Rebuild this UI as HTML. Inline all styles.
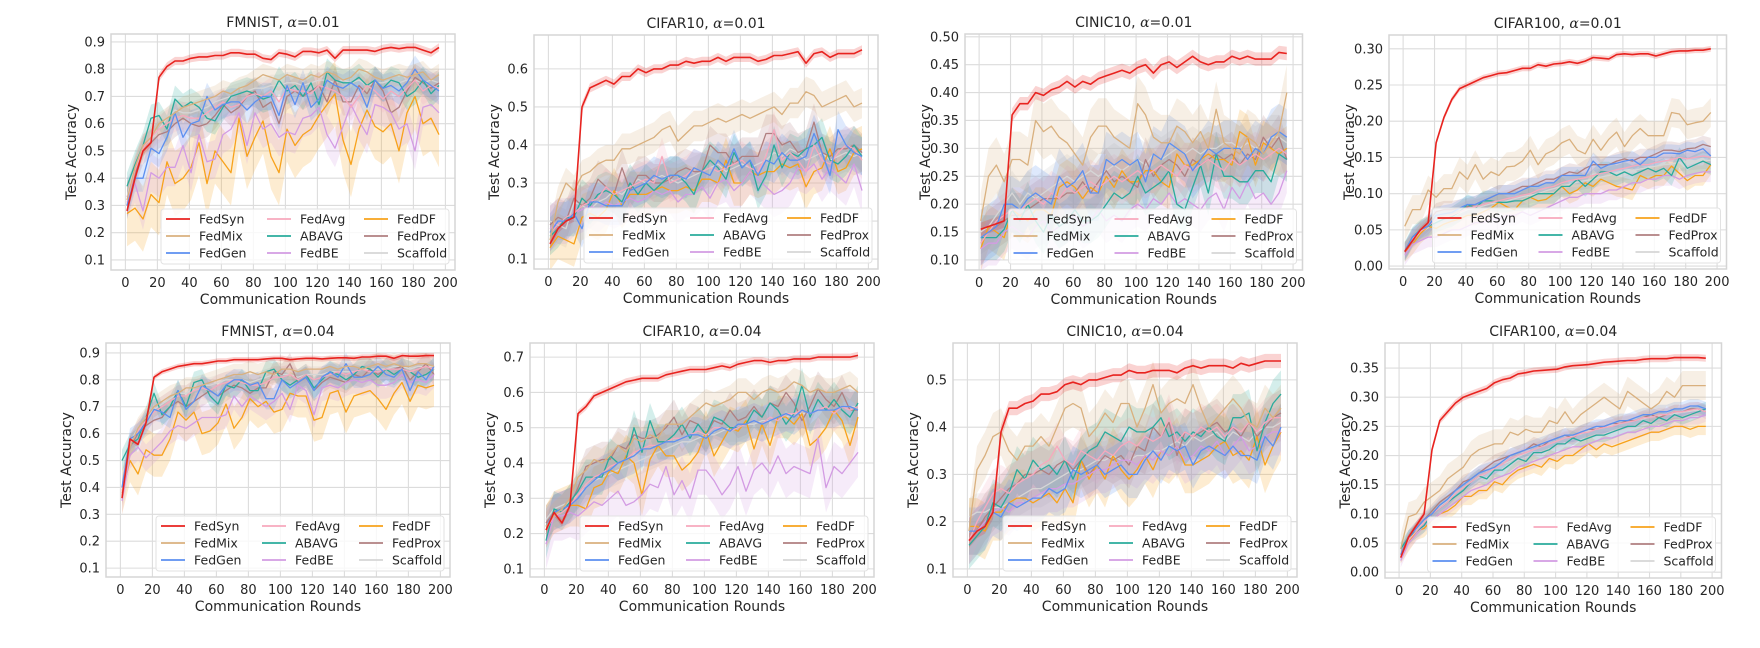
<!DOCTYPE html>
<html><head><meta charset="utf-8"><style>
html,body{margin:0;padding:0;background:#fff;}
svg{display:block;font-family:"DejaVu Sans","Liberation Sans",sans-serif;}
</style></head><body>
<svg id="fig" width="1760" height="648" viewBox="0 0 1760 648" xmlns="http://www.w3.org/2000/svg"></svg>
<script>
// Series order: FedSyn, FedMix, FedGen, FedAvg, ABAVG, FedBE, FedDF, FedProx, Scaffold
const seriesNames = ["FedSyn","FedMix","FedGen","FedAvg","ABAVG","FedBE","FedDF","FedProx","Scaffold"];
const rounds = [1,6,11,16,21,26,31,36,41,46,51,56,61,66,71,76,81,86,91,96,101,106,111,116,121,126,131,136,141,146,151,156,161,166,171,176,181,186,191,196];
const xTicks = [0,20,40,60,80,100,120,140,160,180,200];

const p1Titles = "FMNIST";
const p1Syn = [0.28,0.40,0.50,0.53,0.77,0.81,0.83,0.83,0.84,0.845,0.845,0.85,0.85,0.86,0.86,0.855,0.855,0.84,0.835,0.86,0.855,0.845,0.865,0.865,0.86,0.87,0.84,0.87,0.87,0.87,0.87,0.865,0.875,0.88,0.875,0.88,0.88,0.87,0.86,0.88];
const p1Mix = [0.32,0.44,0.52,0.55,0.60,0.62,0.64,0.66,0.67,0.68,0.69,0.70,0.72,0.71,0.73,0.74,0.76,0.78,0.77,0.76,0.78,0.77,0.76,0.78,0.77,0.79,0.78,0.76,0.77,0.80,0.79,0.77,0.76,0.77,0.78,0.77,0.78,0.79,0.76,0.78];
const p1Gen = [0.30,0.40,0.40,0.51,0.49,0.55,0.64,0.55,0.60,0.61,0.70,0.65,0.67,0.68,0.68,0.65,0.68,0.70,0.70,0.63,0.74,0.67,0.75,0.66,0.69,0.76,0.74,0.73,0.75,0.73,0.66,0.76,0.73,0.74,0.72,0.75,0.80,0.76,0.74,0.72];
const p1Avg = [0.31,0.43,0.51,0.55,0.58,0.60,0.62,0.63,0.62,0.62,0.64,0.66,0.68,0.66,0.67,0.70,0.71,0.70,0.72,0.68,0.73,0.72,0.72,0.71,0.74,0.73,0.72,0.70,0.66,0.70,0.74,0.72,0.69,0.72,0.70,0.73,0.76,0.72,0.74,0.73];
const p1Ab = [0.37,0.45,0.52,0.62,0.63,0.58,0.69,0.66,0.68,0.66,0.62,0.61,0.66,0.70,0.71,0.72,0.71,0.69,0.70,0.76,0.72,0.74,0.70,0.75,0.67,0.79,0.76,0.75,0.75,0.77,0.74,0.76,0.73,0.76,0.75,0.70,0.72,0.76,0.71,0.74];
const p1Be = [0.33,0.38,0.28,0.42,0.40,0.44,0.44,0.52,0.42,0.56,0.46,0.47,0.56,0.58,0.64,0.52,0.64,0.58,0.60,0.55,0.57,0.56,0.62,0.63,0.66,0.56,0.51,0.59,0.67,0.61,0.56,0.67,0.66,0.64,0.58,0.60,0.50,0.66,0.67,0.64];
const p1Df = [0.27,0.29,0.25,0.34,0.31,0.46,0.38,0.40,0.44,0.53,0.38,0.50,0.46,0.42,0.62,0.48,0.55,0.61,0.48,0.42,0.58,0.52,0.56,0.58,0.63,0.67,0.71,0.54,0.45,0.58,0.65,0.59,0.57,0.60,0.50,0.64,0.70,0.60,0.62,0.56];
const p1Prox = [0.30,0.42,0.50,0.53,0.56,0.57,0.60,0.62,0.60,0.59,0.60,0.63,0.67,0.64,0.66,0.70,0.72,0.66,0.68,0.60,0.70,0.72,0.70,0.72,0.74,0.68,0.76,0.68,0.68,0.74,0.71,0.76,0.72,0.64,0.66,0.72,0.77,0.75,0.73,0.75];
const p1Scaf = [0.33,0.45,0.52,0.54,0.58,0.62,0.65,0.64,0.64,0.65,0.66,0.68,0.69,0.70,0.71,0.72,0.73,0.73,0.74,0.74,0.75,0.75,0.74,0.75,0.76,0.76,0.75,0.76,0.75,0.76,0.74,0.75,0.75,0.76,0.75,0.76,0.76,0.75,0.76,0.75];
const p1Spread = [0.015,0.04,0.05,0.05,0.05,0.07,0.12,0.05,0.04];

const p2Syn = [0.14,0.18,0.20,0.21,0.50,0.55,0.56,0.57,0.56,0.58,0.58,0.60,0.59,0.60,0.60,0.61,0.61,0.62,0.615,0.62,0.62,0.63,0.62,0.63,0.63,0.63,0.62,0.625,0.635,0.635,0.64,0.645,0.615,0.64,0.645,0.63,0.64,0.64,0.64,0.65];
const p2Mix = [0.15,0.25,0.30,0.28,0.32,0.33,0.35,0.36,0.36,0.39,0.39,0.40,0.41,0.42,0.44,0.45,0.41,0.43,0.45,0.45,0.46,0.47,0.46,0.47,0.48,0.47,0.48,0.49,0.50,0.48,0.51,0.51,0.54,0.53,0.50,0.51,0.52,0.53,0.50,0.51];
const p2Gen = [0.17,0.20,0.20,0.22,0.18,0.25,0.25,0.24,0.24,0.24,0.28,0.29,0.30,0.32,0.31,0.32,0.32,0.31,0.34,0.33,0.32,0.36,0.34,0.39,0.34,0.36,0.32,0.36,0.35,0.38,0.36,0.36,0.37,0.43,0.38,0.32,0.44,0.40,0.38,0.37];
const p2Avg = [0.17,0.19,0.21,0.22,0.24,0.25,0.26,0.29,0.27,0.28,0.29,0.30,0.31,0.30,0.37,0.30,0.31,0.32,0.34,0.33,0.34,0.33,0.34,0.35,0.36,0.34,0.33,0.37,0.44,0.36,0.38,0.36,0.33,0.40,0.36,0.35,0.38,0.40,0.39,0.36];
const p2Ab = [0.16,0.18,0.21,0.21,0.26,0.24,0.27,0.28,0.27,0.25,0.30,0.27,0.30,0.28,0.30,0.32,0.32,0.30,0.27,0.33,0.36,0.34,0.31,0.38,0.34,0.36,0.28,0.32,0.40,0.34,0.38,0.37,0.39,0.40,0.42,0.36,0.35,0.37,0.40,0.37];
const p2Be = [0.18,0.20,0.20,0.22,0.23,0.24,0.23,0.25,0.24,0.25,0.26,0.25,0.26,0.28,0.27,0.28,0.25,0.27,0.27,0.29,0.26,0.30,0.31,0.28,0.30,0.33,0.31,0.29,0.27,0.28,0.30,0.34,0.33,0.35,0.31,0.34,0.32,0.30,0.35,0.28];
const p2Df = [0.13,0.16,0.15,0.14,0.21,0.22,0.21,0.23,0.28,0.24,0.27,0.27,0.27,0.28,0.29,0.28,0.28,0.29,0.28,0.31,0.31,0.30,0.36,0.30,0.30,0.33,0.32,0.33,0.33,0.35,0.34,0.35,0.29,0.33,0.34,0.39,0.33,0.34,0.38,0.39];
const p2Prox = [0.19,0.21,0.20,0.26,0.24,0.26,0.31,0.29,0.27,0.34,0.28,0.32,0.32,0.30,0.30,0.31,0.33,0.34,0.33,0.33,0.40,0.38,0.38,0.35,0.37,0.37,0.37,0.43,0.43,0.40,0.41,0.38,0.39,0.46,0.38,0.37,0.39,0.39,0.40,0.38];
const p2Scaf = [0.20,0.19,0.18,0.25,0.24,0.23,0.25,0.26,0.28,0.27,0.29,0.31,0.30,0.31,0.32,0.31,0.30,0.31,0.32,0.33,0.34,0.35,0.33,0.34,0.35,0.34,0.35,0.36,0.38,0.37,0.39,0.38,0.36,0.37,0.38,0.36,0.37,0.38,0.37,0.38];
const p2Spread = [0.012,0.04,0.05,0.05,0.05,0.06,0.06,0.05,0.05];

const p3Syn = [0.155,0.16,0.165,0.17,0.36,0.38,0.38,0.40,0.395,0.405,0.41,0.42,0.41,0.42,0.415,0.425,0.43,0.435,0.44,0.435,0.445,0.45,0.435,0.45,0.455,0.445,0.455,0.465,0.455,0.45,0.455,0.455,0.465,0.46,0.465,0.46,0.46,0.46,0.472,0.47];
const p3Mix = [0.17,0.25,0.27,0.24,0.28,0.28,0.27,0.35,0.33,0.34,0.32,0.31,0.29,0.27,0.32,0.34,0.34,0.32,0.31,0.30,0.38,0.36,0.32,0.31,0.31,0.34,0.33,0.31,0.33,0.30,0.37,0.31,0.30,0.29,0.32,0.31,0.29,0.31,0.33,0.40];
const p3Gen = [0.14,0.15,0.16,0.20,0.20,0.19,0.21,0.22,0.21,0.20,0.25,0.23,0.24,0.26,0.22,0.22,0.28,0.27,0.28,0.27,0.28,0.24,0.29,0.28,0.31,0.30,0.29,0.26,0.28,0.30,0.29,0.30,0.30,0.30,0.28,0.30,0.29,0.32,0.33,0.32];
const p3Avg = [0.13,0.15,0.17,0.18,0.19,0.19,0.20,0.21,0.20,0.22,0.21,0.23,0.22,0.23,0.24,0.23,0.24,0.25,0.24,0.25,0.26,0.25,0.26,0.27,0.26,0.25,0.27,0.26,0.27,0.28,0.27,0.26,0.28,0.27,0.28,0.29,0.28,0.29,0.30,0.29];
const p3Ab = [0.14,0.14,0.14,0.155,0.19,0.17,0.20,0.17,0.15,0.18,0.16,0.17,0.19,0.17,0.17,0.18,0.20,0.22,0.21,0.22,0.25,0.22,0.23,0.24,0.26,0.20,0.19,0.23,0.27,0.22,0.29,0.25,0.25,0.24,0.24,0.26,0.26,0.24,0.29,0.28];
const p3Be = [0.12,0.13,0.13,0.15,0.16,0.15,0.14,0.16,0.17,0.15,0.16,0.17,0.18,0.16,0.17,0.19,0.17,0.18,0.17,0.19,0.20,0.19,0.21,0.20,0.22,0.20,0.21,0.20,0.19,0.21,0.22,0.19,0.23,0.21,0.24,0.21,0.22,0.20,0.22,0.26];
const p3Df = [0.12,0.16,0.15,0.14,0.19,0.18,0.17,0.19,0.19,0.18,0.23,0.24,0.23,0.21,0.23,0.22,0.25,0.23,0.26,0.24,0.24,0.26,0.26,0.24,0.23,0.29,0.27,0.27,0.28,0.29,0.28,0.28,0.27,0.33,0.32,0.27,0.31,0.30,0.29,0.30];
const p3Prox = [0.13,0.15,0.16,0.17,0.18,0.18,0.19,0.20,0.21,0.21,0.21,0.22,0.22,0.24,0.22,0.24,0.26,0.24,0.25,0.24,0.23,0.28,0.25,0.27,0.28,0.27,0.25,0.28,0.27,0.28,0.29,0.28,0.29,0.27,0.29,0.28,0.32,0.30,0.32,0.28];
const p3Scaf = [0.15,0.16,0.18,0.20,0.22,0.20,0.22,0.21,0.22,0.23,0.24,0.25,0.24,0.25,0.26,0.25,0.26,0.27,0.26,0.27,0.28,0.27,0.29,0.28,0.29,0.30,0.29,0.30,0.29,0.30,0.30,0.31,0.31,0.30,0.31,0.30,0.31,0.32,0.32,0.31];
const p3Spread = [0.012,0.05,0.05,0.04,0.04,0.04,0.04,0.04,0.04];

const p4Syn = [0.02,0.035,0.05,0.06,0.17,0.205,0.23,0.245,0.25,0.255,0.26,0.263,0.266,0.267,0.27,0.273,0.273,0.278,0.276,0.279,0.28,0.282,0.28,0.283,0.288,0.287,0.286,0.292,0.293,0.292,0.293,0.293,0.29,0.293,0.296,0.297,0.297,0.298,0.298,0.30];
const p4Mix = [0.055,0.078,0.078,0.105,0.095,0.107,0.107,0.13,0.12,0.14,0.12,0.13,0.125,0.137,0.138,0.145,0.16,0.14,0.155,0.16,0.17,0.175,0.16,0.155,0.175,0.16,0.175,0.185,0.165,0.18,0.19,0.18,0.18,0.18,0.212,0.21,0.195,0.198,0.20,0.212];
const p4Gen = [0.02,0.04,0.05,0.055,0.07,0.072,0.074,0.08,0.085,0.085,0.09,0.095,0.10,0.10,0.10,0.105,0.11,0.11,0.115,0.115,0.125,0.125,0.125,0.125,0.145,0.135,0.14,0.142,0.145,0.147,0.14,0.15,0.15,0.156,0.156,0.155,0.16,0.158,0.162,0.152];
const p4Avg = [0.02,0.038,0.048,0.055,0.065,0.068,0.07,0.075,0.08,0.082,0.085,0.088,0.09,0.093,0.095,0.098,0.10,0.105,0.108,0.11,0.115,0.118,0.12,0.122,0.125,0.128,0.13,0.133,0.135,0.138,0.14,0.14,0.143,0.145,0.147,0.15,0.148,0.15,0.152,0.15];
const p4Ab = [0.02,0.04,0.05,0.055,0.06,0.065,0.068,0.075,0.085,0.08,0.09,0.09,0.088,0.088,0.09,0.09,0.095,0.10,0.10,0.10,0.11,0.11,0.12,0.11,0.12,0.13,0.13,0.125,0.13,0.125,0.13,0.135,0.13,0.135,0.125,0.15,0.135,0.14,0.145,0.14];
const p4Be = [0.015,0.03,0.035,0.04,0.04,0.045,0.05,0.05,0.055,0.06,0.06,0.065,0.065,0.07,0.07,0.075,0.07,0.075,0.08,0.085,0.09,0.095,0.095,0.10,0.10,0.10,0.105,0.105,0.11,0.115,0.115,0.12,0.12,0.125,0.125,0.12,0.125,0.128,0.13,0.13];
const p4Df = [0.02,0.03,0.045,0.055,0.052,0.058,0.062,0.065,0.07,0.07,0.075,0.08,0.088,0.082,0.078,0.09,0.095,0.09,0.092,0.10,0.11,0.10,0.105,0.115,0.11,0.12,0.115,0.11,0.108,0.105,0.125,0.12,0.125,0.125,0.138,0.128,0.118,0.125,0.125,0.14];
const p4Prox = [0.02,0.04,0.05,0.06,0.075,0.078,0.078,0.08,0.082,0.085,0.09,0.095,0.10,0.10,0.105,0.11,0.11,0.115,0.12,0.12,0.125,0.13,0.128,0.135,0.14,0.14,0.14,0.145,0.148,0.145,0.15,0.15,0.155,0.16,0.16,0.158,0.162,0.163,0.168,0.165];
const p4Scaf = [0.02,0.036,0.046,0.053,0.062,0.066,0.068,0.073,0.078,0.08,0.083,0.086,0.088,0.09,0.093,0.096,0.098,0.10,0.104,0.107,0.11,0.113,0.116,0.118,0.12,0.123,0.125,0.128,0.13,0.132,0.134,0.136,0.138,0.14,0.141,0.143,0.144,0.145,0.146,0.146];
const p4Spread = [0.004,0.02,0.012,0.012,0.014,0.014,0.014,0.012,0.012];

const p5Syn = [0.36,0.58,0.56,0.64,0.81,0.83,0.84,0.85,0.855,0.86,0.86,0.865,0.87,0.87,0.875,0.875,0.875,0.875,0.878,0.88,0.88,0.875,0.878,0.88,0.88,0.878,0.88,0.882,0.882,0.88,0.885,0.885,0.888,0.888,0.88,0.89,0.888,0.888,0.89,0.89];
const p5Mix = [0.37,0.55,0.62,0.66,0.70,0.72,0.74,0.75,0.77,0.77,0.78,0.79,0.80,0.81,0.82,0.82,0.83,0.82,0.83,0.82,0.84,0.84,0.83,0.84,0.84,0.84,0.85,0.84,0.85,0.85,0.84,0.85,0.86,0.85,0.86,0.85,0.85,0.86,0.86,0.85];
const p5Gen = [0.40,0.58,0.60,0.64,0.69,0.68,0.66,0.76,0.69,0.72,0.78,0.76,0.74,0.78,0.80,0.80,0.78,0.79,0.73,0.73,0.80,0.77,0.79,0.81,0.76,0.81,0.83,0.81,0.86,0.81,0.81,0.82,0.85,0.82,0.81,0.84,0.76,0.83,0.80,0.85];
const p5Avg = [0.38,0.56,0.61,0.65,0.68,0.70,0.72,0.74,0.74,0.76,0.77,0.76,0.78,0.79,0.80,0.79,0.78,0.78,0.79,0.81,0.81,0.82,0.80,0.82,0.80,0.81,0.82,0.83,0.82,0.83,0.84,0.83,0.83,0.84,0.84,0.84,0.83,0.84,0.85,0.84];
const p5Ab = [0.50,0.56,0.58,0.66,0.75,0.67,0.70,0.76,0.70,0.79,0.80,0.74,0.71,0.78,0.77,0.80,0.76,0.76,0.83,0.84,0.80,0.78,0.80,0.82,0.77,0.80,0.83,0.82,0.80,0.82,0.85,0.84,0.81,0.84,0.82,0.84,0.83,0.81,0.82,0.84];
const p5Be = [0.35,0.52,0.55,0.51,0.54,0.57,0.61,0.63,0.62,0.64,0.66,0.66,0.66,0.67,0.74,0.70,0.74,0.72,0.70,0.72,0.75,0.69,0.78,0.76,0.67,0.77,0.78,0.77,0.79,0.80,0.79,0.80,0.78,0.78,0.79,0.82,0.79,0.80,0.79,0.82];
const p5Df = [0.38,0.50,0.45,0.54,0.52,0.52,0.58,0.68,0.65,0.68,0.60,0.61,0.64,0.71,0.62,0.66,0.73,0.70,0.72,0.68,0.69,0.75,0.74,0.74,0.65,0.66,0.75,0.76,0.68,0.74,0.75,0.76,0.73,0.69,0.75,0.79,0.72,0.78,0.77,0.78];
const p5Prox = [0.38,0.55,0.60,0.63,0.65,0.66,0.70,0.72,0.70,0.72,0.74,0.76,0.74,0.76,0.78,0.77,0.75,0.77,0.77,0.83,0.82,0.86,0.79,0.81,0.76,0.79,0.81,0.80,0.79,0.82,0.81,0.84,0.82,0.84,0.84,0.85,0.80,0.83,0.86,0.82];
const p5Scaf = [0.39,0.57,0.62,0.66,0.69,0.71,0.73,0.75,0.75,0.77,0.78,0.78,0.79,0.80,0.80,0.80,0.79,0.80,0.81,0.82,0.82,0.82,0.81,0.82,0.82,0.82,0.83,0.83,0.83,0.83,0.84,0.84,0.84,0.84,0.85,0.85,0.84,0.85,0.85,0.85];
const p5Spread = [0.01,0.04,0.04,0.04,0.04,0.05,0.08,0.04,0.03];

const p6Syn = [0.21,0.26,0.23,0.28,0.54,0.56,0.59,0.60,0.61,0.62,0.63,0.635,0.64,0.64,0.64,0.65,0.655,0.66,0.665,0.665,0.665,0.67,0.675,0.67,0.68,0.685,0.69,0.69,0.685,0.69,0.69,0.695,0.695,0.695,0.70,0.70,0.70,0.70,0.70,0.705];
const p6Mix = [0.22,0.25,0.27,0.30,0.36,0.38,0.41,0.40,0.42,0.45,0.43,0.47,0.46,0.48,0.47,0.51,0.51,0.51,0.53,0.55,0.57,0.56,0.57,0.58,0.60,0.60,0.58,0.60,0.61,0.60,0.61,0.63,0.62,0.60,0.61,0.60,0.60,0.61,0.62,0.60];
const p6Gen = [0.22,0.26,0.27,0.28,0.30,0.33,0.35,0.37,0.38,0.40,0.41,0.42,0.44,0.44,0.45,0.46,0.46,0.47,0.48,0.48,0.47,0.49,0.50,0.49,0.51,0.51,0.52,0.51,0.52,0.53,0.54,0.53,0.55,0.54,0.55,0.55,0.55,0.56,0.56,0.55];
const p6Avg = [0.21,0.25,0.26,0.28,0.31,0.34,0.36,0.37,0.39,0.40,0.41,0.43,0.44,0.45,0.45,0.46,0.47,0.47,0.48,0.49,0.48,0.50,0.50,0.49,0.50,0.51,0.52,0.51,0.53,0.52,0.54,0.54,0.55,0.54,0.55,0.56,0.54,0.56,0.55,0.56];
const p6Ab = [0.18,0.27,0.26,0.29,0.32,0.36,0.36,0.36,0.42,0.40,0.41,0.50,0.43,0.52,0.46,0.46,0.48,0.51,0.47,0.51,0.48,0.53,0.52,0.50,0.50,0.51,0.55,0.53,0.57,0.55,0.51,0.54,0.62,0.53,0.58,0.55,0.58,0.55,0.53,0.57];
const p6Be = [0.17,0.25,0.25,0.26,0.25,0.27,0.29,0.28,0.30,0.32,0.28,0.29,0.31,0.34,0.33,0.39,0.31,0.35,0.30,0.38,0.38,0.35,0.31,0.34,0.39,0.32,0.38,0.40,0.37,0.42,0.37,0.39,0.38,0.37,0.47,0.33,0.39,0.37,0.40,0.43];
const p6Df = [0.22,0.26,0.27,0.28,0.28,0.27,0.33,0.34,0.38,0.37,0.42,0.40,0.31,0.41,0.45,0.42,0.42,0.38,0.40,0.43,0.49,0.42,0.46,0.50,0.49,0.52,0.44,0.51,0.45,0.53,0.53,0.51,0.54,0.45,0.47,0.50,0.55,0.52,0.45,0.53];
const p6Prox = [0.23,0.26,0.27,0.28,0.33,0.39,0.40,0.41,0.41,0.45,0.44,0.48,0.47,0.47,0.48,0.50,0.53,0.48,0.52,0.51,0.48,0.52,0.51,0.55,0.52,0.53,0.56,0.53,0.57,0.56,0.60,0.57,0.52,0.56,0.61,0.58,0.56,0.60,0.55,0.55];
const p6Scaf = [0.24,0.27,0.28,0.29,0.31,0.33,0.35,0.36,0.37,0.38,0.39,0.40,0.41,0.42,0.43,0.44,0.45,0.46,0.46,0.47,0.48,0.48,0.49,0.50,0.50,0.51,0.51,0.52,0.52,0.53,0.53,0.54,0.54,0.54,0.55,0.55,0.55,0.56,0.56,0.56];
const p6Spread = [0.01,0.04,0.05,0.05,0.05,0.07,0.06,0.05,0.04];

const p7Syn = [0.16,0.18,0.19,0.22,0.39,0.44,0.44,0.45,0.455,0.47,0.47,0.475,0.49,0.495,0.49,0.50,0.50,0.505,0.51,0.51,0.52,0.515,0.515,0.52,0.52,0.52,0.515,0.525,0.53,0.525,0.53,0.53,0.53,0.525,0.535,0.53,0.535,0.54,0.54,0.54];
const p7Mix = [0.18,0.31,0.34,0.38,0.39,0.35,0.33,0.36,0.36,0.38,0.36,0.40,0.44,0.45,0.44,0.38,0.40,0.43,0.41,0.45,0.45,0.40,0.44,0.49,0.43,0.45,0.46,0.45,0.49,0.44,0.40,0.42,0.44,0.46,0.44,0.41,0.40,0.44,0.42,0.44];
const p7Gen = [0.18,0.18,0.19,0.22,0.21,0.24,0.23,0.24,0.25,0.25,0.27,0.26,0.27,0.31,0.30,0.31,0.32,0.30,0.31,0.32,0.30,0.30,0.33,0.35,0.33,0.36,0.35,0.36,0.32,0.35,0.36,0.35,0.34,0.36,0.34,0.34,0.33,0.38,0.36,0.40];
const p7Avg = [0.16,0.20,0.23,0.26,0.27,0.26,0.28,0.29,0.30,0.32,0.33,0.36,0.33,0.32,0.35,0.34,0.33,0.35,0.34,0.36,0.37,0.36,0.38,0.37,0.38,0.42,0.37,0.39,0.38,0.40,0.39,0.40,0.38,0.40,0.39,0.41,0.39,0.41,0.42,0.42];
const p7Ab = [0.15,0.17,0.19,0.24,0.23,0.26,0.31,0.29,0.33,0.31,0.32,0.30,0.33,0.29,0.33,0.35,0.36,0.39,0.38,0.37,0.40,0.39,0.39,0.40,0.42,0.38,0.39,0.37,0.39,0.38,0.40,0.38,0.37,0.42,0.42,0.43,0.35,0.41,0.45,0.47];
const p7Be = [0.16,0.18,0.20,0.22,0.23,0.22,0.24,0.24,0.25,0.26,0.27,0.27,0.28,0.28,0.29,0.30,0.31,0.31,0.32,0.33,0.33,0.32,0.34,0.33,0.35,0.34,0.36,0.33,0.34,0.36,0.35,0.37,0.34,0.36,0.38,0.35,0.36,0.38,0.39,0.39];
const p7Df = [0.19,0.19,0.18,0.22,0.22,0.24,0.25,0.25,0.24,0.25,0.26,0.24,0.27,0.24,0.33,0.29,0.32,0.29,0.34,0.31,0.29,0.31,0.34,0.31,0.35,0.34,0.36,0.32,0.32,0.33,0.34,0.36,0.37,0.34,0.35,0.33,0.38,0.32,0.36,0.39];
const p7Prox = [0.16,0.18,0.21,0.23,0.25,0.27,0.28,0.30,0.30,0.31,0.30,0.32,0.33,0.31,0.33,0.30,0.32,0.34,0.33,0.34,0.32,0.36,0.35,0.40,0.38,0.41,0.34,0.39,0.38,0.39,0.40,0.41,0.39,0.40,0.38,0.41,0.38,0.40,0.42,0.43];
const p7Scaf = [0.21,0.22,0.22,0.23,0.23,0.24,0.25,0.26,0.27,0.27,0.28,0.29,0.30,0.31,0.31,0.32,0.33,0.33,0.34,0.33,0.33,0.34,0.34,0.35,0.35,0.36,0.37,0.36,0.38,0.37,0.38,0.39,0.37,0.39,0.38,0.37,0.39,0.40,0.40,0.41];
const p7Spread = [0.015,0.05,0.05,0.05,0.05,0.05,0.06,0.05,0.04];

const p8Syn = [0.025,0.06,0.08,0.10,0.21,0.26,0.275,0.29,0.30,0.305,0.31,0.315,0.325,0.33,0.333,0.34,0.342,0.345,0.346,0.347,0.348,0.352,0.354,0.355,0.356,0.358,0.36,0.361,0.362,0.363,0.363,0.365,0.366,0.366,0.366,0.368,0.368,0.368,0.368,0.367];
const p8Mix = [0.04,0.095,0.10,0.12,0.13,0.14,0.16,0.17,0.18,0.20,0.21,0.215,0.22,0.22,0.24,0.235,0.245,0.24,0.24,0.26,0.255,0.275,0.255,0.27,0.28,0.29,0.30,0.29,0.28,0.31,0.30,0.29,0.28,0.29,0.31,0.30,0.32,0.32,0.32,0.32];
const p8Gen = [0.03,0.06,0.075,0.09,0.10,0.115,0.125,0.14,0.15,0.16,0.17,0.175,0.18,0.19,0.20,0.205,0.21,0.215,0.22,0.225,0.23,0.235,0.235,0.24,0.245,0.25,0.25,0.255,0.26,0.26,0.265,0.27,0.27,0.275,0.275,0.28,0.28,0.285,0.285,0.28];
const p8Avg = [0.03,0.055,0.07,0.085,0.10,0.11,0.12,0.135,0.145,0.155,0.165,0.17,0.178,0.185,0.195,0.20,0.205,0.21,0.215,0.22,0.225,0.23,0.232,0.238,0.24,0.245,0.248,0.25,0.255,0.257,0.26,0.265,0.265,0.27,0.27,0.275,0.275,0.278,0.28,0.275];
const p8Ab = [0.04,0.06,0.07,0.08,0.10,0.11,0.12,0.13,0.14,0.155,0.165,0.16,0.175,0.175,0.185,0.195,0.19,0.205,0.205,0.21,0.22,0.22,0.23,0.225,0.23,0.235,0.235,0.24,0.245,0.25,0.25,0.26,0.255,0.265,0.26,0.27,0.265,0.27,0.275,0.28];
const p8Be = [0.02,0.05,0.065,0.08,0.09,0.10,0.11,0.12,0.13,0.14,0.145,0.15,0.16,0.165,0.17,0.18,0.185,0.19,0.195,0.20,0.205,0.21,0.215,0.215,0.22,0.225,0.23,0.23,0.235,0.24,0.24,0.245,0.25,0.25,0.255,0.26,0.26,0.265,0.265,0.27];
const p8Df = [0.03,0.05,0.07,0.075,0.09,0.10,0.105,0.115,0.13,0.13,0.14,0.14,0.155,0.15,0.165,0.175,0.18,0.185,0.18,0.195,0.19,0.20,0.20,0.21,0.22,0.21,0.22,0.215,0.22,0.225,0.23,0.235,0.24,0.24,0.245,0.25,0.25,0.245,0.25,0.25];
const p8Prox = [0.03,0.06,0.075,0.09,0.105,0.12,0.13,0.14,0.155,0.16,0.17,0.18,0.19,0.195,0.20,0.205,0.21,0.22,0.215,0.225,0.23,0.235,0.23,0.24,0.245,0.245,0.25,0.255,0.255,0.26,0.26,0.265,0.27,0.265,0.27,0.275,0.275,0.28,0.28,0.275];
const p8Scaf = [0.03,0.055,0.072,0.088,0.10,0.112,0.122,0.135,0.145,0.155,0.163,0.17,0.178,0.185,0.19,0.198,0.204,0.21,0.215,0.22,0.225,0.23,0.233,0.237,0.242,0.245,0.248,0.252,0.255,0.258,0.26,0.263,0.266,0.268,0.27,0.272,0.274,0.276,0.278,0.276];
const p8Spread = [0.006,0.025,0.012,0.012,0.012,0.012,0.015,0.012,0.01];

const panelTitles = ["FMNIST","CIFAR10","CINIC10","CIFAR100","FMNIST","CIFAR10","CINIC10","CIFAR100"];
const panelAlpha = ["0.01","0.01","0.01","0.01","0.04","0.04","0.04","0.04"];
const panelData = [
  [p1Syn,p1Mix,p1Gen,p1Avg,p1Ab,p1Be,p1Df,p1Prox,p1Scaf],
  [p2Syn,p2Mix,p2Gen,p2Avg,p2Ab,p2Be,p2Df,p2Prox,p2Scaf],
  [p3Syn,p3Mix,p3Gen,p3Avg,p3Ab,p3Be,p3Df,p3Prox,p3Scaf],
  [p4Syn,p4Mix,p4Gen,p4Avg,p4Ab,p4Be,p4Df,p4Prox,p4Scaf],
  [p5Syn,p5Mix,p5Gen,p5Avg,p5Ab,p5Be,p5Df,p5Prox,p5Scaf],
  [p6Syn,p6Mix,p6Gen,p6Avg,p6Ab,p6Be,p6Df,p6Prox,p6Scaf],
  [p7Syn,p7Mix,p7Gen,p7Avg,p7Ab,p7Be,p7Df,p7Prox,p7Scaf],
  [p8Syn,p8Mix,p8Gen,p8Avg,p8Ab,p8Be,p8Df,p8Prox,p8Scaf]
];
const panelSpreads = [p1Spread,p2Spread,p3Spread,p4Spread,p5Spread,p6Spread,p7Spread,p8Spread];
const yTicks = [
  [0.1,0.2,0.3,0.4,0.5,0.6,0.7,0.8,0.9],
  [0.1,0.2,0.3,0.4,0.5,0.6],
  [0.10,0.15,0.20,0.25,0.30,0.35,0.40,0.45,0.50],
  [0.00,0.05,0.10,0.15,0.20,0.25,0.30],
  [0.1,0.2,0.3,0.4,0.5,0.6,0.7,0.8,0.9],
  [0.1,0.2,0.3,0.4,0.5,0.6,0.7],
  [0.1,0.2,0.3,0.4,0.5],
  [0.00,0.05,0.10,0.15,0.20,0.25,0.30,0.35]
];
const yDecimals = [1,1,2,2,1,1,1,2];
const yLims = [[0.063,0.929],[0.074,0.689],[0.082,0.505],[-0.004,0.319],[0.067,0.937],[0.077,0.740],[0.083,0.578],[-0.010,0.393]];

// layout (pixel boxes)
const boxes = [
  {l:111,t:34,w:344,h:236},{l:534,t:35,w:344,h:234},{l:965,t:34,w:337.5,h:236},{l:1389,t:35,w:337.5,h:234},
  {l:106,t:343,w:344,h:234},{l:530,t:343,w:344,h:234},{l:953,t:343,w:344,h:234},{l:1385,t:343,w:336.5,h:235}
];
const XMIN=-9, XMAX=206;
const colors = ["#e8231f","#d9b07e","#5b8ff0","#f7a8bd","#2aab9c","#d39be3","#f7a21b","#b07f80","#d6d6d6"];
const drawOrder = [8,7,6,5,4,3,2,1,0];
const NS="http://www.w3.org/2000/svg";
const svg=document.getElementById('fig');
function mk(tag,attrs,parent){const e=document.createElementNS(NS,tag);for(const k in attrs)e.setAttribute(k,attrs[k]);(parent||svg).appendChild(e);return e;}

boxes.forEach((b,pi)=>{
  const g=mk('g',{});
  
  
  const [ymin,ymax]=yLims[pi];
  const xs=v=>b.l+(v-XMIN)/(XMAX-XMIN)*b.w;
  const ys=v=>b.t+b.h-(v-ymin)/(ymax-ymin)*b.h;
  const clipId='clip'+pi;
  const cp=mk('clipPath',{id:clipId},g);mk('rect',{x:b.l,y:b.t,width:b.w,height:b.h},cp);
  // grid
  xTicks.forEach(t=>{
    const l=mk('line',{x1:xs(t),x2:xs(t),y1:b.t,y2:b.t+b.h,stroke:'#dcdcdc','stroke-width':1.1},g);
    
    
    const tx=mk('text',{x:xs(t),y:b.t+b.h+17,'font-size':13,'text-anchor':'middle',fill:'#262626'},g);
    
    
    tx.textContent=t;
  });
  yTicks[pi].forEach(t=>{
    const l=mk('line',{x1:b.l,x2:b.l+b.w,y1:ys(t),y2:ys(t),stroke:'#dcdcdc','stroke-width':1.1},g);
    
    
    const tx=mk('text',{x:b.l-6,y:ys(t)+4.5,'font-size':13,'text-anchor':'end',fill:'#262626'},g);
    
    
    tx.textContent=t.toFixed(yDecimals[pi]);
  });
  const plot=mk('g',{'clip-path':'url(#'+clipId+')'},g);
  const data=panelData[pi], spr=panelSpreads[pi];
  drawOrder.forEach(si=>{
    const vals=data[si];
    let up='',lo='';
    vals.forEach((v,i)=>{up+=(i?'L':'M')+xs(rounds[i]).toFixed(1)+','+ys(v+spr[si]).toFixed(1);});
    for(let i=vals.length-1;i>=0;i--){lo+='L'+xs(rounds[i]).toFixed(1)+','+ys(vals[i]-spr[si]).toFixed(1);}
    const band=mk('path',{d:up+lo+'Z',fill:colors[si],'fill-opacity':si===8?0.3:0.2,stroke:'none'},plot);
    
    
  });
  drawOrder.forEach(si=>{
    const vals=data[si];
    let d='';
    vals.forEach((v,i)=>{d+=(i?'L':'M')+xs(rounds[i]).toFixed(1)+','+ys(v).toFixed(1);});
    const ln=mk('path',{d:d,fill:'none',stroke:colors[si],'stroke-width':si===0?1.6:1.3,'stroke-linejoin':'round'},plot);
    
    
  });
  const fr=mk('rect',{x:b.l,y:b.t,width:b.w,height:b.h,fill:'none',stroke:'#d5d5d5','stroke-width':1.5},g);
  
  
  // title
  const tt=mk('text',{x:b.l+b.w/2,y:b.t-7,'font-size':14,'text-anchor':'middle',fill:'#262626'},g);
  
  
  tt.innerHTML=panelTitles[pi]+', <tspan font-style="italic" font-family="DejaVu Serif, Liberation Serif, serif">α</tspan>='+panelAlpha[pi];
  const xl=mk('text',{x:b.l+b.w/2,y:b.t+b.h+34,'font-size':14,'text-anchor':'middle',fill:'#262626'},g);
  
  
  xl.textContent='Communication Rounds';
  const yx=b.l-39, yy=b.t+b.h/2;
  const yl=mk('text',{x:yx,y:yy,'font-size':14,'text-anchor':'middle','dominant-baseline':'middle',fill:'#262626',transform:'rotate(-90 '+yx+' '+yy+')'},g);
  
  
  yl.textContent='Test Accuracy';
  // legend
  const LW=288, LH=55;
  const lx=b.l+b.w-6-LW, ly=b.t+b.h-6-LH;
  const lg=mk('g',{},g);
  
  
  mk('rect',{x:lx,y:ly,width:LW,height:LH,rx:3,fill:'#fff','fill-opacity':0.8,stroke:'#e2e2e2'},lg);
  const colOff=[5,106,203];
  for(let si=0;si<9;si++){
    const c=Math.floor(si/3), r=si%3;
    const ey=ly+10+r*17;
    const ent=mk('g',{},lg);
    
    
    mk('line',{x1:lx+colOff[c],x2:lx+colOff[c]+24,y1:ey,y2:ey,stroke:colors[si],'stroke-width':1.8},ent);
    const t=mk('text',{x:lx+colOff[c]+33,y:ey+4.5,'font-size':12.5,fill:'#262626'},ent);
    t.textContent=seriesNames[si];
  }
});
</script>
</body></html>
